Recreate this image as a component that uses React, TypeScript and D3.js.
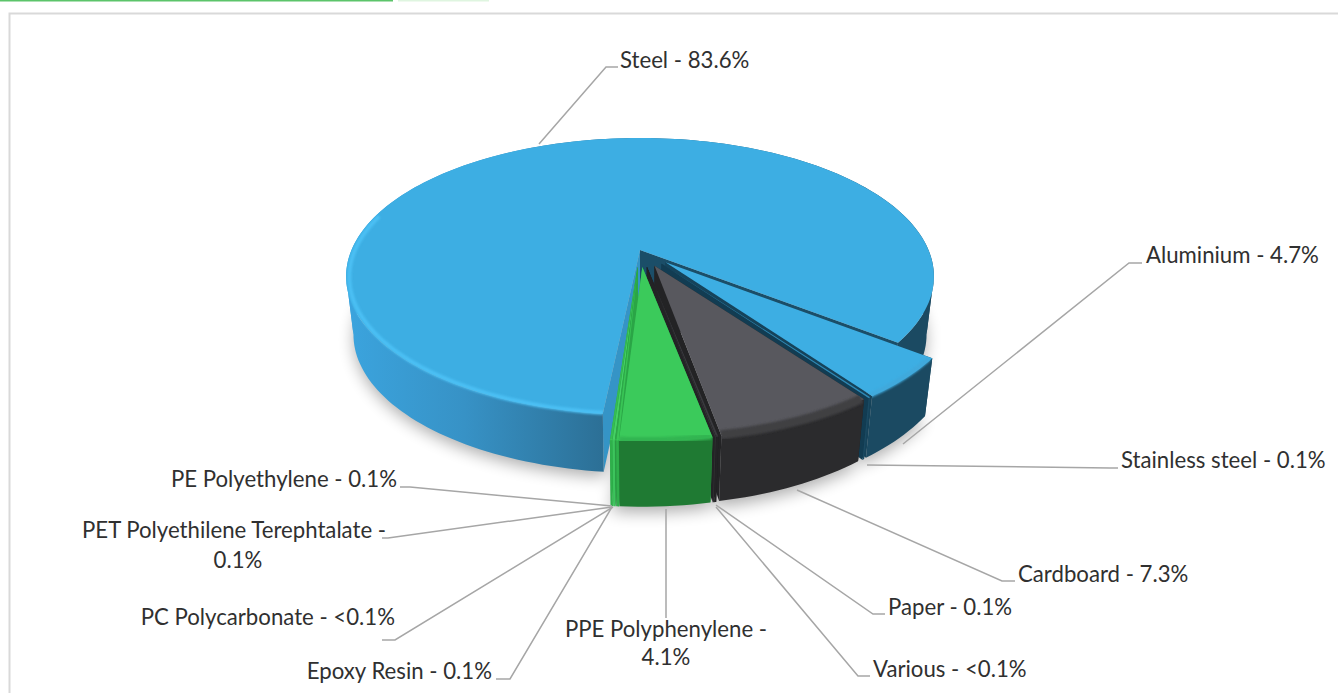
import React from "react";
import * as d3 from "d3";

// ---- data ----
const materials = ["Steel", "Aluminium", "Stainless steel", "Cardboard", "Paper", "Various", "PPE Polyphenylene", "Epoxy Resin", "PC Polycarbonate", "PET Polyethilene Terephtalate", "PE Polyethylene"];
const shares = [83.6, 4.7, 0.1, 7.3, 0.1, 0.05, 4.1, 0.1, 0.05, 0.1, 0.1];
const shareLabels = ["83.6%", "4.7%", "0.1%", "7.3%", "0.1%", "<0.1%", "4.1%", "0.1%", "<0.1%", "0.1%", "0.1%"];

// ---- styles per slice ----
const topColors = ["#3daee3", "#3daee3", "#2f89b5", "#58585e", "#3a3a3e", "#333336", "#3bca5b", "#39c556", "#2fa84a", "#45d065", "#36bd52"];
const wallColors = ["url(#steelWall)", "#1b4a62", "#1b4a62", "#2b2b2d", "#232325", "#2e2e30", "#1f7a33", "#2fb04b", "#2a9a44", "#3cc45c", "#2fb04b"];
const cutColors = ["#3594c6", "#16435a", "#123c52", "#232325", "#1e1e20", "#232325", "#2aa546", "#2aa546", "#2aa546", "#2aa546", "#2aa546"];
const rimColors = ["#4bc0f4", "#3fa9dc", "#2f89b5", "#3f3f42", "#2d2d2f", "#2d2d2f", "#33b551", "#3ccb5a", "#3ccb5a", "#3ccb5a", "#3ccb5a"];
const rimWidths = [4, 5, 3, 9, 4, 4, 6, 4, 4, 4, 4];

// ---- layout of labels and leaders ----
const labelLayout: { x: number; y: number; anchor: string; wrap?: [number, number, number] }[] = [
  { x: 620, y: 68, anchor: "start" },
  { x: 1146, y: 263, anchor: "start" },
  { x: 1121, y: 468, anchor: "start" },
  { x: 1018, y: 582, anchor: "start" },
  { x: 888, y: 615, anchor: "start" },
  { x: 873, y: 677, anchor: "start" },
  { x: 666, y: 637, anchor: "middle", wrap: [666, 665, 1] },
  { x: 492, y: 679, anchor: "end" },
  { x: 395, y: 625, anchor: "end" },
  { x: 82, y: 538, anchor: "start", wrap: [238, 568, 1] },
  { x: 397, y: 487, anchor: "end" },
];
const leaders: [number, number][][] = [
  [[539, 144], [606, 67], [618, 67]],
  [[903, 444], [1129, 263], [1142, 263]],
  [[867, 465], [1110, 468], [1118, 468]],
  [[797, 490], [1002, 581], [1015, 581]],
  [[716, 505], [873, 614], [885, 614]],
  [[716, 507], [858, 676], [870, 676]],
  [[666, 509], [666, 618]],
  [[612, 507], [510, 679], [496, 679]],
  [[613, 507], [395, 640], [382, 640]],
  [[612, 507], [388, 538], [382, 538]],
  [[612, 506], [410, 487], [400, 487]],
];

// ---- projection of the tilted disc ----
const CX = 640, CY = 250, R = 288.5, K = 133.4, PERSP = 0.191, DEPTH = 58, SHRINK = 0.025, EXPLODE = 0.125;
const DEG = Math.PI / 180;
const START_ANGLE = 187 * DEG;
// Per-slice rotation correction (degrees) for the drawing's perspective.
const spinStart = [-1, 0.7, 0.2, -0.5, -1.5, -1.5, -2, -2.8, -2.8, -2.8, -2.8];
const spinEnd = [0.8, 0.7, 0.2, -0.5, -1.5, -1.5, -2, -2.8, -2.8, -2.8, -2.8];

const project = (u: number, v: number, z: number): [number, number] => {
  const s = 1 / (1 - PERSP * v);
  const zs = 1 - (SHRINK * z) / DEPTH;
  return [CX + R * u * s * zs, CY + K * v * s + z];
};

const pieGen = d3.pie<number>().sort(null).startAngle(START_ANGLE).endAngle(START_ANGLE + 2 * Math.PI);
const arcs = pieGen(shares).map((d, i) => ({
  ...d,
  startAngle: d.startAngle + spinStart[i] * DEG,
  endAngle: d.endAngle + spinEnd[i] * DEG,
}));
const line = d3.line<[number, number]>();

type Geo = {
  at: (r: number, a: number, z: number) => [number, number];
  arc: (r: number, a0: number, a1: number, z: number) => [number, number][];
};
const geoms: Geo[] = arcs.map((d, i) => {
  const mid = (d.startAngle + d.endAngle) / 2;
  const e = i === 0 ? 0 : EXPLODE;
  const ox = e * Math.sin(mid), oy = -e * Math.cos(mid);
  const at = (r: number, a: number, z: number) => {
    const v = oy - r * Math.cos(a);
    // the exploded slices come nearer to the viewer, so their walls read taller
    const zz = i === 0 ? z : z * (1 + 0.31 * (v - 0.7));
    return project(ox + r * Math.sin(a), v, zz);
  };
  const arc = (r: number, a0: number, a1: number, z: number) => {
    const n = Math.max(2, Math.ceil(Math.abs(a1 - a0) / (1.5 * DEG)));
    return d3.range(n + 1).map((k) => at(r, a0 + ((a1 - a0) * k) / n, z));
  };
  return { at, arc };
});

const closed = (pts: [number, number][]) => (line(pts) || "") + "Z";

// Where the ring folds over at its silhouette; the wall is cut there so it fills solidly.
const foldAngles = [259 * DEG, 461 * DEG];

// Slices are painted back to front.
const paintOrder = [0, 1, 2, 3, 4, 5, 10, 9, 8, 7, 6];

function Slice({ i }: { i: number }) {
  const d = arcs[i], g = geoms[i];
  const a0 = d.startAngle, a1 = d.endAngle;
  const top = closed([g.at(0, a0, 0), ...g.arc(1, a0, a1, 0)]);
  const cuts = [a0, ...foldAngles.filter((f) => f > a0 && f < a1), a1];
  const outers = d3.pairs(cuts).map(([p, q]) => closed([...g.arc(1, p, q, 0), ...g.arc(1, q, p, DEPTH)]));
  const wallA = closed([g.at(0, a0, 0), g.at(1, a0, 0), g.at(1, a0, DEPTH), g.at(0, a0, DEPTH)]);
  const wallB = closed([g.at(0, a1, 0), g.at(1, a1, 0), g.at(1, a1, DEPTH), g.at(0, a1, DEPTH)]);
  const rimA1 = i === 0 ? a0 + 100 * DEG : a1;
  const rim = line(g.arc(0.99, a0, rimA1, 1)) || "";
  const clipId = `top-${i}`;
  return (
    <g>
      <clipPath id={clipId}>
        <path d={top} />
        {outers.map((o, k) => (
          <path key={k} d={o} />
        ))}
      </clipPath>
      <path d={wallA} fill={cutColors[i]} />
      <path d={wallB} fill={i === 0 ? "#1b4e68" : cutColors[i]} />
      {outers.map((o, k) => (
        <path key={k} d={o} fill={wallColors[i]} />
      ))}
      <path d={top} fill={topColors[i]} />
      <g clipPath={`url(#${clipId})`}>
        <path d={rim} fill="none" stroke={rimColors[i]} strokeWidth={rimWidths[i]} filter="url(#soft)" />
      </g>
    </g>
  );
}

export default function App() {
  const labelFont = { fontFamily: "Lato, Carlito, sans-serif", fontSize: 22.2, fill: "#303030" };
  return (
    <svg width={1338} height={693} style={{ position: "absolute", left: 0, top: 0, display: "block", background: "#fff" }}>
      <defs>
        <linearGradient id="steelWall" gradientUnits="userSpaceOnUse" x1={346} x2={935} y1={0} y2={0}>
          <stop offset="0" stopColor="#3ba4de" />
          <stop offset="0.2" stopColor="#3792c6" />
          <stop offset="0.44" stopColor="#2c6f95" />
          <stop offset="0.9" stopColor="#1b4a62" />
          <stop offset="1" stopColor="#1b4a62" />
        </linearGradient>
        <filter id="soft" x="-10%" y="-10%" width="120%" height="120%">
          <feGaussianBlur stdDeviation="1.3" />
        </filter>
        <filter id="shadow" x="-10%" y="-20%" width="120%" height="140%">
          <feGaussianBlur stdDeviation="8" />
        </filter>
      </defs>

      <rect x={0} y={0} width={393} height={1.5} fill="#5cc46a" />
      <rect x={398} y={0} width={91} height={1.5} fill="#dff5e0" />
      <path d="M9.5 693V13.5H1338" fill="none" stroke="#d9d9d9" strokeWidth={2} />

      <g filter="url(#shadow)" opacity={0.32}>
        {arcs.map((d, i) => (
          <path
            key={materials[i]}
            d={closed([geoms[i].at(0, d.startAngle, DEPTH + 5), ...geoms[i].arc(1, d.startAngle, d.endAngle, DEPTH + 5)])}
            fill="#000"
          />
        ))}
      </g>

      {paintOrder.map((i) => (
        <Slice key={materials[i]} i={i} />
      ))}

      {leaders.map((pts, i) => (
        <path key={materials[i]} d={line(pts) || ""} fill="none" stroke="#a6a6a6" strokeWidth={1.5} />
      ))}

      {materials.map((m, i) => {
        const l = labelLayout[i];
        if (l.wrap) {
          return (
            <g key={m} {...labelFont}>
              <text x={l.x} y={l.y} textAnchor={l.anchor}>{`${m} -`}</text>
              <text x={l.wrap[0]} y={l.wrap[1]} textAnchor="middle">{shareLabels[i]}</text>
            </g>
          );
        }
        return (
          <text key={m} x={l.x} y={l.y} textAnchor={l.anchor} {...labelFont}>
            {`${m} - ${shareLabels[i]}`}
          </text>
        );
      })}
    </svg>
  );
}
